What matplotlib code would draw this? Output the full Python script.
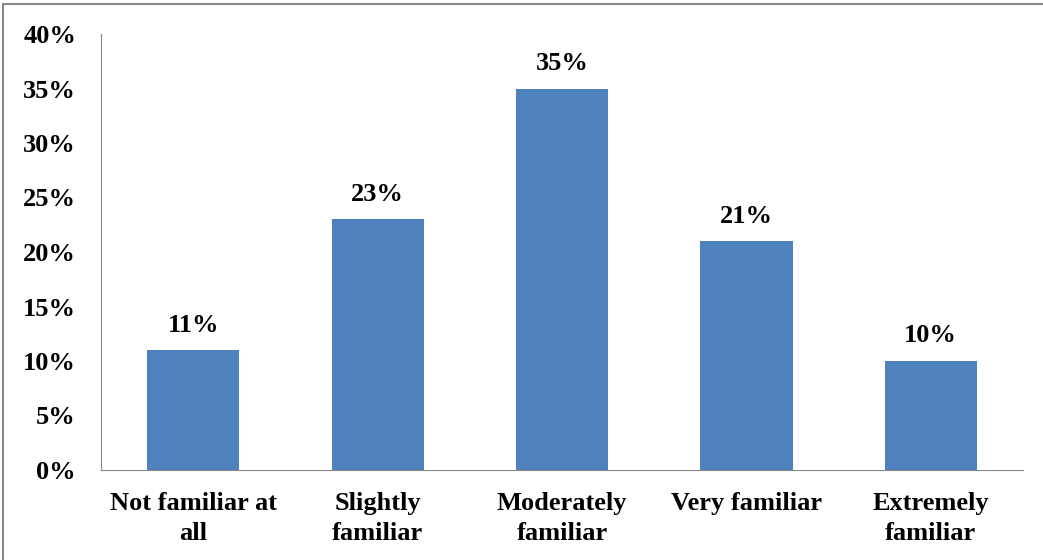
import matplotlib.pyplot as plt
from matplotlib.patches import Rectangle
from matplotlib.ticker import PercentFormatter

categories = ['Not familiar at\nall', 'Slightly\nfamiliar', 'Moderately\nfamiliar',
              'Very familiar', 'Extremely\nfamiliar']
values = [11, 23, 35, 21, 10]
yticks = [0, 5, 10, 15, 20, 25, 30, 35, 40]

plt.rcParams['font.family'] = ['Liberation Serif', 'DejaVu Serif']
plt.rcParams['font.weight'] = 'bold'

W, H = 1043, 560
fig = plt.figure(figsize=(W / 100, H / 100), dpi=100)
ax = fig.add_axes([101 / W, (H - 470) / H, (1023 - 101) / W, (470 - 34) / H])

# outer chart frame (top/left edge visible)
fig.patches.append(Rectangle((3 / W, -0.1), 1.2, (H - 4) / H + 0.1, transform=fig.transFigure,
                             fill=False, edgecolor='#888888', linewidth=1.5))

x = range(len(values))
bars = ax.bar(x, values, width=0.5, color='#4f81bd')
for b, v in zip(bars, values):
    ax.text(b.get_x() + b.get_width() / 2, v + 2.3, f'{v}%', ha='center', va='center',
            fontsize=19, fontweight='bold')

ax.set_xlim(-0.5, len(values) - 0.5)
ax.set_ylim(0, 40)
ax.set_yticks(yticks)
ax.yaxis.set_major_formatter(PercentFormatter(decimals=0))
ax.set_xticks(list(x))
ax.set_xticklabels(categories, linespacing=1.35)
ax.tick_params(axis='y', labelsize=19, length=0, pad=18)
ax.tick_params(axis='x', labelsize=19, length=0, pad=16)
for lbl in ax.get_xticklabels() + ax.get_yticklabels():
    lbl.set_fontweight('bold')
for s in ['top', 'right']:
    ax.spines[s].set_visible(False)
for s in ['left', 'bottom']:
    ax.spines[s].set_color('#888888')

fig.savefig('out.png', dpi=100)
